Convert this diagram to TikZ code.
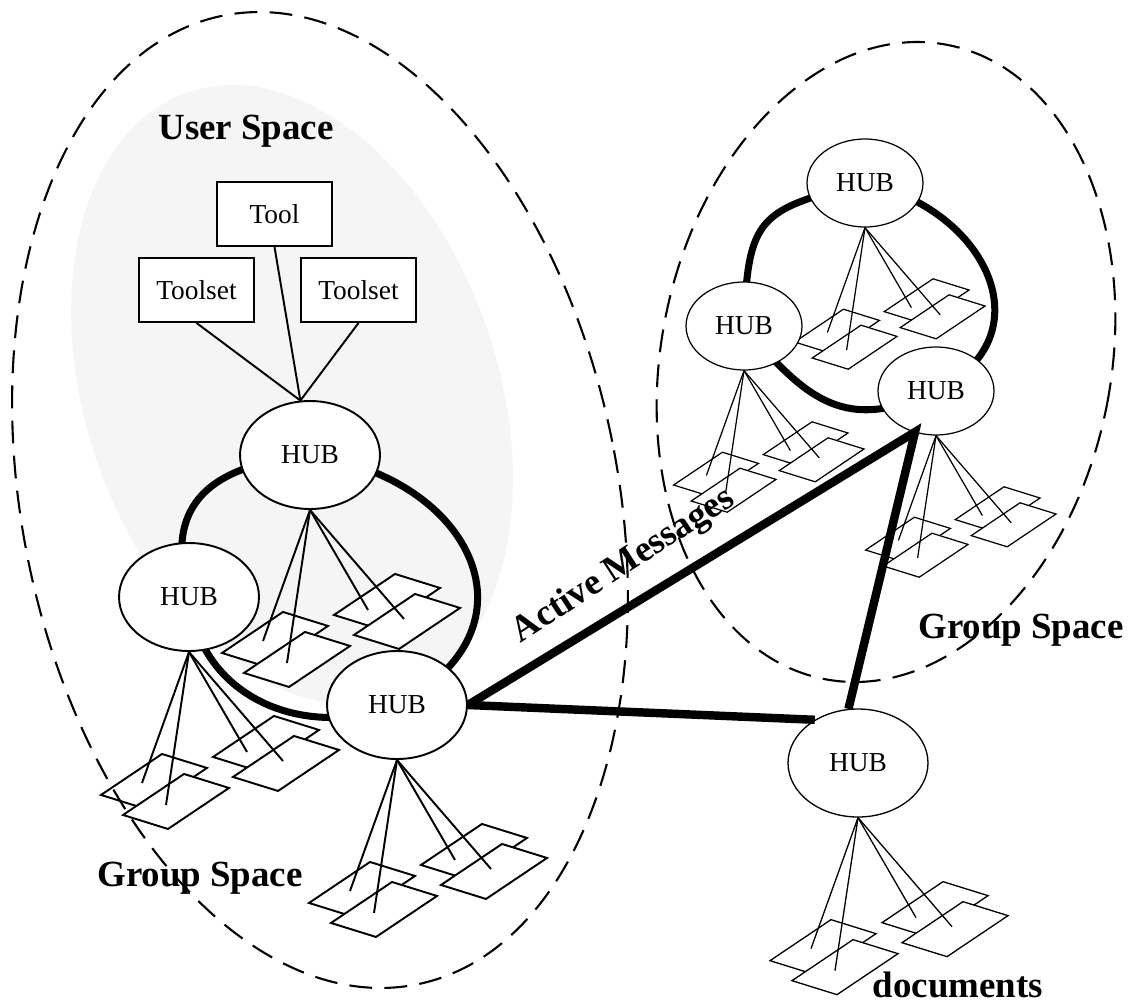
\documentclass[tikz,border=0pt]{standalone}
\usepackage{fontspec}
\setmainfont{Liberation Serif}
\usepackage{tikz}
\usetikzlibrary{shapes.geometric, positioning, calc, backgrounds}
\definecolor{userfill}{RGB}{245,245,245}
\pgfdeclarelayer{back}
\pgfdeclarelayer{docs}
\pgfdeclarelayer{ring}
\pgfsetlayers{back,docs,ring,main}

\newcommand{\hubfont}{\fontsize{15.6}{18}\selectfont}
\newcommand{\labelfont}{\fontsize{21}{25}\selectfont\bfseries}

% four documents hanging below a hub
\newcommand{\hubdocs}[3]{%
  \begin{scope}[shift={(#1.south)}, scale=#2]
    \begin{pgfonlayer}{docs}
      \foreach \lx/\ly in {-88/-143, -66/-163, 24/-105, 44/-125}
        \draw[doc, line width=#3] (\lx,\ly) -- ++(61,41) -- ++(45,-14) -- ++(-61,-41) -- cycle;
    \end{pgfonlayer}
    \foreach \ex/\ey in {-47/-131, -23/-153, 58/-100, 94/-109}
      \draw[line width=#3] (0,0) -- (\ex,\ey);
  \end{scope}}

\begin{document}
\begin{tikzpicture}[
        x=0.02cm, y=0.02cm,
        hub/.style={ellipse, draw, fill=white, inner sep=0pt, minimum width=2.8cm, minimum height=2.16cm, font=\hubfont},
        smallhub/.style={hub, minimum width=2.32cm, minimum height=1.76cm, line width=0.7pt},
        toolbox/.style={rectangle, draw, fill=white, line width=1.1pt, minimum width=2.3cm, minimum height=1.28cm, font=\hubfont},
        doc/.style={draw, fill=white, line join=miter},
        ring/.style={line width=4pt},
        msg/.style={line width=4.8pt, line join=miter},
        space/.style={line width=1.2pt, dash pattern=on 13pt off 7pt},
        spacelabel/.style={font=\labelfont}
    ]
        \useasboundingbox (0,0) rectangle (1131,-1004);

        % User Space
        \begin{pgfonlayer}{back}
            \fill[userfill, shift={(292,-395)}, rotate=19] (0,0) ellipse [x radius=206, y radius=320];
        \end{pgfonlayer}

        % Hubs
        \node[hub, line width=1.1pt] (h1) at (310,-455) {HUB};
        \node[hub, line width=1.1pt] (h2) at (189,-597) {HUB};
        \node[hub, line width=1.1pt] (h3) at (397,-705) {HUB};
        \node[hub, line width=0.75pt] (h4) at (858,-763) {HUB};
        \node[smallhub] (h5) at (865,-183) {HUB};
        \node[smallhub] (h6) at (744,-326) {HUB};
        \node[smallhub] (h7) at (936,-391) {HUB};

        % Tools
        \node[toolbox] (tool) at (274.5,-214) {Tool};
        \node[toolbox] (tsleft) at (196.5,-290) {Toolset};
        \node[toolbox] (tsright) at (358.5,-290) {Toolset};
        \draw[line width=1.1pt] (tsleft.south) -- (h1.100);
        \draw[line width=1.1pt] (tool.south) -- (h1.100);
        \draw[line width=1.1pt] (tsright.south) -- (h1.100);

        % Rings
        \begin{pgfonlayer}{ring}
            \draw[ring] (h1.center) to[out=-8, in=27, looseness=1.6] (h3.center)
                to[out=201, in=-84, looseness=1.1] (h2.center)
                to[out=106, in=186, looseness=1.35] (h1.center);
            \draw[ring] (h5.center) to[out=-12, in=26, looseness=1.45] (h7.center)
                to[out=205, in=-50, looseness=1.25] (h6.center)
                to[out=88, in=194, looseness=1.5] (h5.center);
        \end{pgfonlayer}

        % Documents
        \hubdocs{h1}{1}{1.1pt}
        \hubdocs{h2}{1}{1.1pt}
        \hubdocs{h3}{1}{1.1pt}
        \hubdocs{h4}{1}{0.75pt}
        \hubdocs{h5}{0.8}{0.7pt}
        \hubdocs{h6}{0.8}{0.7pt}
        \hubdocs{h7}{0.8}{0.7pt}

        % Active messages
        \coordinate (apex) at (915,-432);
        \draw[msg] (h3.east) -- (apex) -- (h4.100);
        \draw[msg] (h3.east) -- (h4.135);

        % Labels
        \node[spacelabel] (userlbl) at (246,-131) {User Space};
        \node[spacelabel, rotate=33] (msglbl) at (624,-566) {Active Messages};
        \node[spacelabel] (grouplbl) at (200,-878) {Group Space};
        \node[spacelabel] (grouplbr) at (1021,-630) {Group Space};
        \node[spacelabel] (doclbl) at (958,-985) {documents};

        % Group spaces
        \draw[space, shift={(320,-500)}, rotate=11.3] (0,0) ellipse [x radius=298, y radius=494];
        \draw[space, shift={(886,-362)}, rotate=-11] (0,0) ellipse [x radius=225, y radius=323];
\end{tikzpicture}
\end{document}
